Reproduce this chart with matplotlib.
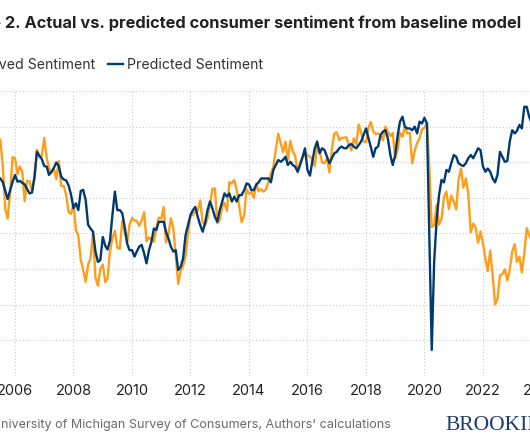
import numpy as np
import pandas as pd
import matplotlib
matplotlib.use("Agg")
from matplotlib import pyplot as plt
import matplotlib.dates as mdates

# monthly, Jun 2005 .. Sep 2023
months = pd.date_range("2005-06-01", "2023-09-01", freq="MS")

observed = [
    96.0, 96.5, 89.1, 76.9, 74.2, 81.6, 91.5,
    91.2, 86.7, 88.9, 87.4, 79.1, 84.9, 84.7, 82.0, 85.4, 93.6, 92.1, 91.7,
    96.9, 91.3, 88.4, 87.1, 88.3, 85.3, 90.4, 83.4, 83.4, 80.9, 76.1, 75.5,
    78.4, 70.8, 69.5, 62.6, 59.8, 56.4, 61.2, 63.0, 70.3, 57.6, 55.3, 60.1,
    61.2, 56.3, 57.3, 65.1, 68.7, 70.8, 66.0, 65.7, 73.5, 70.6, 67.4, 72.5,
    74.4, 73.6, 73.6, 72.2, 73.6, 76.0, 67.8, 68.9, 68.2, 67.7, 71.6, 74.5,
    74.2, 77.5, 67.5, 69.8, 74.3, 71.5, 63.7, 55.8, 59.5, 60.8, 63.7, 69.9,
    75.0, 75.3, 76.2, 76.4, 79.3, 73.2, 72.3, 74.3, 78.3, 82.6, 82.7, 72.9,
    73.8, 77.6, 78.6, 76.4, 84.5, 84.1, 85.1, 82.1, 77.5, 73.2, 75.1, 82.5,
    81.2, 81.6, 80.0, 84.1, 81.9, 82.5, 81.8, 82.5, 84.6, 86.9, 88.8, 93.6,
    98.1, 95.4, 93.0, 95.9, 90.7, 96.1, 93.1, 91.9, 87.2, 90.0, 91.3, 92.6,
    92.0, 91.7, 91.0, 89.0, 94.7, 93.5, 90.0, 89.8, 91.2, 87.2, 93.8, 98.2,
    98.5, 96.3, 96.9, 97.0, 97.1, 95.0, 93.4, 96.8, 95.1, 100.7, 98.5, 95.9,
    95.7, 99.7, 101.4, 98.8, 98.0, 98.2, 97.9, 96.2, 100.1, 98.6, 97.5, 98.3,
    91.2, 93.8, 98.4, 97.2, 100.0, 98.2, 98.4, 89.8, 93.2, 95.5, 96.8, 99.3,
    99.8, 101.0, 89.1, 71.8, 72.3, 78.1, 72.5, 74.1, 80.4, 81.8, 76.9, 80.7,
    79.0, 76.8, 84.9, 88.3, 82.9, 85.5, 81.2, 70.3, 72.8, 71.7, 67.4, 70.6,
    67.2, 62.8, 59.4, 65.2, 58.4, 50.0, 51.5, 58.2, 58.6, 59.9, 56.8, 59.7,
    64.9, 67.0, 62.0, 63.5, 59.0, 64.4, 71.5, 69.5, 67.9,
]

predicted = [
    86.0, 85.5, 84.5, 82.0, 79.7, 82.2, 84.5,
    86.5, 84.6, 84.8, 84.3, 83.8, 82.5, 81.3, 81.5, 86.0, 93.0, 91.8, 91.0,
    89.0, 88.8, 86.5, 87.4, 88.5, 90.0, 89.0, 86.0, 85.2, 85.0, 83.5, 81.0,
    77.1, 78.5, 76.6, 82.0, 82.3, 79.5, 72.5, 71.4, 70.5, 65.0, 62.0, 62.5,
    69.0, 66.5, 65.5, 68.0, 75.2, 81.8, 76.6, 76.6, 75.7, 71.9, 67.2, 65.3,
    65.3, 63.5, 64.9, 66.3, 66.8, 64.4, 61.6, 65.3, 67.7, 71.4, 71.0, 73.3,
    73.3, 73.3, 70.5, 68.6, 66.3, 64.9, 65.3, 59.7, 60.6, 63.0, 69.6, 72.4,
    75.2, 76.6, 77.5, 74.7, 72.4, 70.5, 72.9, 76.6, 79.0, 77.1, 74.7, 73.3,
    76.6, 79.0, 81.3, 80.4, 81.3, 79.0, 80.4, 79.0, 80.8, 80.8, 82.2, 84.1,
    83.8, 82.2, 82.2, 83.7, 84.4, 85.5, 85.5, 85.5, 85.5, 84.4, 87.9, 89.3,
    90.7, 90.2, 90.7, 91.6, 89.3, 90.2, 89.3, 88.8, 87.4, 89.3, 91.6, 94.0,
    87.9, 86.3, 90.2, 94.0, 95.9, 92.6, 94.0, 93.5, 91.6, 89.8, 91.2, 92.6,
    93.0, 94.0, 94.5, 94.0, 94.0, 94.9, 95.2, 94.5, 94.0, 94.9, 95.9, 97.7,
    99.6, 96.8, 94.5, 91.6, 94.0, 94.5, 97.7, 98.7, 99.1, 96.8, 92.1, 89.3,
    92.1, 97.7, 101.5, 102.9, 100.1, 99.6, 99.6, 99.1, 100.1, 98.2, 101.5, 101.0,
    102.6, 101.0, 70.0, 37.2, 62.0, 73.8, 80.8, 85.1, 84.4, 87.9, 87.4, 89.8,
    92.1, 91.6, 89.8, 89.3, 89.0, 89.8, 91.2, 92.1, 91.2, 92.6, 94.0, 93.5,
    88.8, 87.4, 88.3, 87.4, 85.5, 84.4, 86.5, 93.0, 91.6, 90.2, 90.4, 95.9,
    99.1, 98.2, 98.9, 100.6, 99.6, 105.7, 105.7, 102.9, 101.0,
]

orange = "#FF9E1B"
navy = "#003A70"

W, H = 530, 442
fig = plt.figure(figsize=(W / 100, H / 100), dpi=100)
# axes run wider than the canvas: the picture is a crop of a bigger chart
ax = fig.add_axes([-160.5 / W, 66.5 / H, 731.25 / W, 284 / H])

ax.plot(months, observed, color=orange, lw=1.7, label="Observed Sentiment")
ax.plot(months, predicted, color=navy, lw=1.7, label="Predicted Sentiment")

ax.set_xlim(pd.Timestamp("2000-01-01"), pd.Timestamp("2025-01-01"))
ax.set_ylim(30, 110)
ax.set_yticks(np.arange(30, 111, 10))
ax.xaxis.set_major_locator(mdates.YearLocator(2))
ax.xaxis.set_major_formatter(mdates.DateFormatter("%Y"))
ax.grid(True, color="#c8c8c8", lw=0.8, ls=(0, (1, 2)))
ax.set_axisbelow(True)
for s in ax.spines.values():
    s.set_visible(False)
ax.tick_params(axis="x", length=0, pad=6, labelsize=10.5, labelcolor="#222222")
ax.tick_params(axis="y", length=0, labelleft=False)
for lab in ax.get_xticklabels():
    lab.set_family("Inter")

fig.text(521 / W, 1 - 23 / H,
         "Figure 2. Actual vs. predicted consumer sentiment from baseline model",
         ha="right", va="center", fontsize=11.8, fontweight="bold",
         family="Inter", color="#222222")

fig.legend(loc="center right", bbox_to_anchor=(263 / W, 1 - 65 / H), ncol=2,
           frameon=False, borderpad=0, borderaxespad=0, handlelength=1.1,
           handletextpad=0.25, columnspacing=0.85,
           prop={"family": "Inter", "size": 10.2}, labelcolor="#333333")

fig.text(391 / W, 1 - 425 / H,
         "Source: University of Michigan Survey of Consumers, Authors' calculations",
         ha="right", va="center", fontsize=9.1, family="Inter", color="#6b6b6b")
fig.text(445 / W, 1 - 425 / H, "BROOKINGS", ha="left", va="center",
         fontsize=15.5, family="Liberation Serif", color="#1f3b6e")

fig.savefig("out.png", dpi=100)
